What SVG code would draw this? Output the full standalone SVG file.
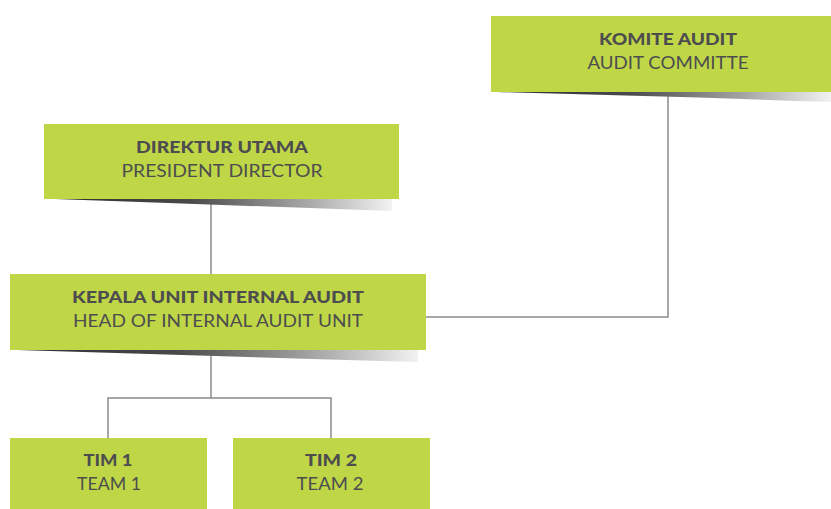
<svg xmlns="http://www.w3.org/2000/svg" width="831" height="509" viewBox="0 0 831 509">
<defs>
<linearGradient id="sh" x1="0" y1="0" x2="1" y2="0">
<stop offset="0" stop-color="#2e2e30"/>
<stop offset="0.4" stop-color="#4a4a4c"/>
<stop offset="0.75" stop-color="#a8a8a8"/>
<stop offset="1" stop-color="#f2f2f2"/>
</linearGradient>
<style>
.box{fill:#bfd747}
.b{font-family:"Lato","Liberation Sans",sans-serif;font-weight:900;font-size:17.5px;fill:#4d4d4f;text-anchor:middle}
.r{font-family:"Lato","Liberation Sans",sans-serif;font-weight:400;font-size:17.5px;fill:#4d4d4f;text-anchor:middle}
.sh{fill:url(#sh)}
.conn{fill:none;stroke:#8a8a8a;stroke-width:1.5}
</style>
</defs>
<g id="connectors">
<path class="conn" d="M211 199V274"/>
<path class="conn" d="M668 92V317H426"/>
<path class="conn" d="M211 350V398M108 438V398H331V438"/>
</g>
<g id="komite">
<path class="sh" d="M497 92H831V102Q660 96 497 92Z"/>
<rect class="box" x="491" y="16" width="340" height="76"/>
<text class="b" x="668" y="45" textLength="138" lengthAdjust="spacingAndGlyphs">KOMITE AUDIT</text>
<text class="r" x="668" y="69" textLength="161" lengthAdjust="spacingAndGlyphs">AUDIT COMMITTE</text>
</g>
<g id="direktur">
<path class="sh" d="M55 199H392V211Q225 205 55 199Z"/>
<rect class="box" x="44" y="124" width="355" height="75"/>
<text class="b" x="222" y="153" textLength="172" lengthAdjust="spacingAndGlyphs">DIREKTUR UTAMA</text>
<text class="r" x="222" y="177" textLength="201" lengthAdjust="spacingAndGlyphs">PRESIDENT DIRECTOR</text>
</g>
<g id="kepala">
<path class="sh" d="M17 350H418V362Q215 356 17 350Z"/>
<rect class="box" x="10" y="274" width="416" height="76"/>
<text class="b" x="218" y="303" textLength="292" lengthAdjust="spacingAndGlyphs">KEPALA UNIT INTERNAL AUDIT</text>
<text class="r" x="218" y="327" textLength="290" lengthAdjust="spacingAndGlyphs">HEAD OF INTERNAL AUDIT UNIT</text>
</g>
<g id="tim1">
<rect class="box" x="10" y="438" width="197" height="71"/>
<text class="b" x="108" y="466" textLength="49" lengthAdjust="spacingAndGlyphs">TIM 1</text>
<text class="r" x="109" y="490" textLength="64" lengthAdjust="spacingAndGlyphs">TEAM 1</text>
</g>
<g id="tim2">
<rect class="box" x="233" y="438" width="197" height="71"/>
<text class="b" x="331" y="466" textLength="52" lengthAdjust="spacingAndGlyphs">TIM 2</text>
<text class="r" x="330" y="490" textLength="67" lengthAdjust="spacingAndGlyphs">TEAM 2</text>
</g>
</svg>
